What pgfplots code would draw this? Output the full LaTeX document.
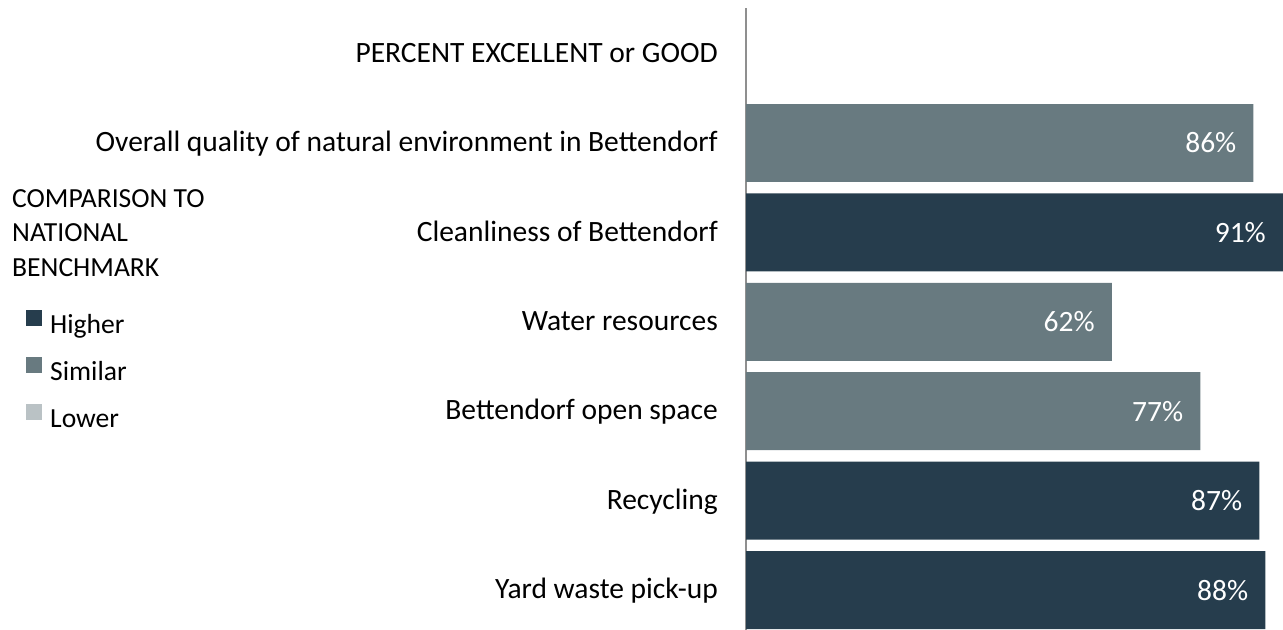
\documentclass[border=0pt]{standalone}
\usepackage{pgfplots}
\pgfplotsset{compat=1.18}
\usepackage{fontspec}
\setmainfont{Carlito}
\definecolor{higher}{HTML}{263D4D}
\definecolor{similar}{HTML}{687A80}
\definecolor{lower}{HTML}{BAC2C5}
\definecolor{axisgray}{HTML}{8F8F8F}
\begin{document}
\begin{tikzpicture}
\path[use as bounding box] (0,0) rectangle (1283bp,630bp);
\begin{scope}[every node/.style={anchor=base west, inner sep=0pt, font=\fontsize{27.6bp}{30bp}\selectfont}]
\node at (12bp,422bp) {COMPARISON TO};
\node at (12bp,388.3bp) {NATIONAL};
\node at (12bp,353.3bp) {BENCHMARK};
\end{scope}
\begin{axis}[
  at={(746bp,0bp)}, anchor=south west,
  width=537bp, height=622bp, scale only axis,
  xbar, bar width=0.872, bar shift=0pt,
  xmin=0, xmax=91, ymin=-0.447, ymax=6.51,
  hide x axis, axis y line*=left,
  y axis line style={-, draw=axisgray, line width=1.8bp},
  ytick={0,...,6},
  yticklabels={Yard waste pick-up, Recycling, Bettendorf open space, Water resources, Cleanliness of Bettendorf, Overall quality of natural environment in Bettendorf, PERCENT EXCELLENT or GOOD},
  major tick length=0pt,
  yticklabel style={anchor=base east, inner sep=0pt, xshift=-28bp, yshift=-8.6bp, font=\fontsize{29.5bp}{32bp}\selectfont},
  point meta=x,
  nodes near coords={\pgfmathprintnumber{\pgfplotspointmeta}\%},
  every node near coord/.append style={anchor=base east, inner sep=0pt, xshift=-17bp, yshift=-10bp, text=white, font=\fontsize{29.5bp}{32bp}\selectfont},
  /pgf/number format/assume math mode=true,
  clip=false,
  legend cell align=left,
  legend style={at={(axis description cs:-1.3408,0.4153)}, anchor=west, draw=none, fill=none, inner sep=0pt, row sep=18bp, column sep=8bp, font=\fontsize{27.6bp}{30bp}\selectfont, nodes={inner sep=0pt, text height=19bp, text depth=6bp}},
  legend image code/.code={\fill (0bp,0.7bp) rectangle (16bp,16.7bp);},
]
\addplot[fill=higher, draw=none] coordinates {(88,0) (87,1) (91,4)};
\addlegendentry{Higher}
\addplot[fill=similar, draw=none] coordinates {(77,2) (62,3) (86,5)};
\addlegendentry{Similar}
\addlegendimage{fill=lower, draw=none}
\addlegendentry{Lower}
\end{axis}
\end{tikzpicture}
\end{document}
